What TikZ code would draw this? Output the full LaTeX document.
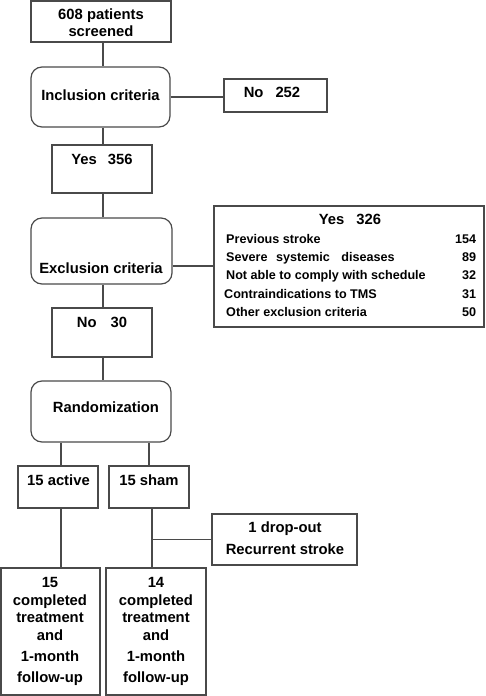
\documentclass[tikz,border=0pt]{standalone}
\usepackage{fontspec}
\setmainfont{Liberation Sans}
\definecolor{linec}{HTML}{4A4A4A}
\begin{document}
\begin{tikzpicture}[x=1pt,y=-1pt,
  box/.style={draw=linec, line width=1.2pt, inner sep=0pt},
  rbox/.style={box, rounded corners=11pt},
  conn/.style={draw=linec, line width=1.2pt},
  txt/.style={inner sep=0pt, font=\fontsize{14.8}{17.7}\selectfont\bfseries, text=black},
  small/.style={inner sep=0pt, font=\fontsize{12.6}{18.2}\selectfont\bfseries, text=black}]
\useasboundingbox (0,0) rectangle (485,696);
% boxes
\node[box, minimum width=140, minimum height=41] (scr) at (101,21.5) {};
\node[rbox, minimum width=139, minimum height=60] (inc) at (100.5,97) {};
\node[box, minimum width=103, minimum height=33] (no252) at (275.5,95.5) {};
\node[box, minimum width=100, minimum height=48] (yes356) at (102,169) {};
\node[rbox, minimum width=141, minimum height=66] (exc) at (101.5,251) {};
\node[box, minimum width=270, minimum height=121] (yes326) at (349,266.5) {};
\node[box, minimum width=100, minimum height=49] (no30) at (102,332.5) {};
\node[rbox, minimum width=140, minimum height=61] (rand) at (101,411.5) {};
\node[box, minimum width=80, minimum height=42] (act) at (58,487) {};
\node[box, minimum width=80, minimum height=42] (sham) at (149,487) {};
\node[box, minimum width=145, minimum height=51] (drop) at (284.5,539.5) {};
\node[box, minimum width=99, minimum height=127] (fin1) at (50.5,631.5) {};
\node[box, minimum width=100, minimum height=127] (fin2) at (156,631.5) {};
% texts
\node[txt, anchor=north, align=center, font=\fontsize{14.8}{17}\selectfont\bfseries] (tscr) at (101,8.3) {608 patients\\screened};
\node[txt, anchor=base] (tinc) at (100.5,100) {Inclusion criteria};
\node[txt, anchor=base] (tno252) at (272,97.3) {No\hspace{12pt}252};
\node[txt, anchor=base] (tyes356) at (102,164.3) {Yes\hspace{11pt}356};
\node[txt, anchor=base] (texc) at (101,273) {Exclusion criteria};
\node[txt, anchor=base] (tyes326) at (350,224.3) {Yes\hspace{12pt}326};
\node[small, anchor=north west] (tlist) at (226,230.6) {%
\begin{tabular*}{250pt}{@{}l@{\extracolsep{\fill}}r@{}}
Previous stroke & 154\\
Severe\hspace{5pt} systemic\hspace{8pt} diseases & 89\\
Not able to comply with schedule & 32\\
\hspace{-2pt}Contraindications to TMS & 31\\
Other exclusion criteria & 50
\end{tabular*}};
\node[txt, anchor=base] (tno30) at (102,327.3) {No\hspace{14pt}30};
\node[txt, anchor=base] (trand) at (106,412.3) {Randomization};
\node[txt, anchor=base] (tact) at (58.5,485) {15 active};
\node[txt, anchor=base] (tsham) at (149,485) {15 sham};
\node[txt, anchor=north, align=center, font=\fontsize{14.8}{21.5}\selectfont\bfseries] (tdrop) at (285,521.7) {1 drop-out\\Recurrent stroke};
\node[txt, anchor=north, align=center] (tfin1) at (50,577) {15\\completed\\treatment\\and\\[3.5pt]1-month\\[3.5pt]follow-up};
\node[txt, anchor=north, align=center] (tfin2) at (156,577) {14\\completed\\treatment\\and\\[3.5pt]1-month\\[3.5pt]follow-up};
% connectors
\draw[conn] ([xshift=2pt]scr.south) -- ([xshift=2pt]scr.south |- inc.north);
\draw[conn] (inc.east) -- (inc.east -| no252.west);
\draw[conn] ([xshift=1pt]yes356.north |- inc.south) -- ([xshift=1pt]yes356.north);
\draw[conn] ([xshift=1pt]yes356.south) -- ([xshift=1pt]yes356.south |- exc.north);
\draw[conn] ([yshift=-15pt]exc.east) -- ([yshift=-15pt]exc.east -| yes326.west);
\draw[conn] ([xshift=1pt]no30.north |- exc.south) -- ([xshift=1pt]no30.north);
\draw[conn] ([xshift=1pt]no30.south) -- ([xshift=1pt]no30.south |- rand.north);
\draw[conn] ([xshift=3pt]act.north |- rand.south) -- ([xshift=3pt]act.north);
\draw[conn] (sham.north |- rand.south) -- (sham.north);
\draw[conn] ([xshift=3pt]act.south) -- ([xshift=3pt]act.south |- fin1.north);
\draw[conn] ([xshift=3pt]sham.south) -- ([xshift=3pt]sham.south |- fin2.north);
\coordinate (br) at ([xshift=3pt]sham.south |- drop.west);
\draw[conn] (br) -- (drop.west);
\end{tikzpicture}
\end{document}
